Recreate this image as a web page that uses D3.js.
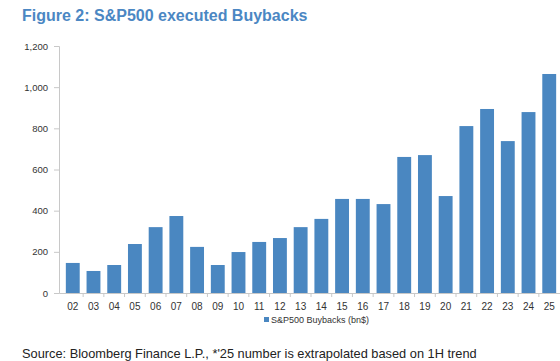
<!DOCTYPE html>
<html>
<head>
<meta charset="utf-8">
<script src="https://d3js.org/d3.v7.min.js"></script>
<style>
  body { margin: 0; background: #fff; }
  text { font-family: "Liberation Sans", Arial, sans-serif; }
</style>
</head>
<body>
<div id="chart"></div>
<script>
  // data
  const years = ["02","03","04","05","06","07","08","09","10","11","12","13",
                 "14","15","16","17","18","19","20","21","22","23","24","25"];
  const buybacks = [146, 107, 136, 238, 320, 374, 224, 136, 199, 248, 267, 320,
                    360, 457, 457, 432, 661, 670, 471, 811, 894, 738, 879, 1064];
  const yTicks = [0, 200, 400, 600, 800, 1000, 1200];

  const W = 560, H = 361;
  const margin = {top: 46, right: -3, bottom: 68, left: 59};
  const width = W - margin.left - margin.right,
        height = H - margin.top - margin.bottom;

  const svg = d3.select("#chart").append("svg")
    .attr("width", W).attr("height", H);

  // title
  svg.append("text")
    .attr("x", 22).attr("y", 21)
    .attr("font-size", 16).attr("font-weight", "bold")
    .attr("fill", "#4b87c3")
    .text("Figure 2: S&P500 executed Buybacks");

  const g = svg.append("g")
    .attr("transform", `translate(${margin.left},${margin.top})`);

  const x = d3.scaleBand().domain(years).range([0, width]).padding(0.33);
  const y = d3.scaleLinear().domain([0, 1200]).range([height, 0]);

  // y axis
  const yAx = g.append("g")
    .call(d3.axisLeft(y).tickValues(yTicks).tickFormat(d3.format(",")).tickSize(5).tickPadding(6));
  yAx.selectAll("line, path").attr("stroke", "#c8c8c8");
  yAx.selectAll("text").attr("font-size", 9.5).attr("fill", "#333")
    .style("font-family", "'Liberation Sans', Arial, sans-serif");

  // bars
  g.selectAll("rect.bar")
    .data(years)
    .join("rect")
    .attr("class", "bar")
    .attr("x", d => x(d))
    .attr("y", (d, i) => y(buybacks[i]))
    .attr("width", x.bandwidth())
    .attr("height", (d, i) => height - y(buybacks[i]))
    .attr("fill", "#4a87c1");

  // x axis
  const xAx = g.append("g")
    .attr("transform", `translate(0,${height})`)
    .call(d3.axisBottom(x).tickSize(0).tickPadding(10));
  xAx.select("path").attr("stroke", "#c8c8c8");
  xAx.selectAll("text").attr("font-size", 10).attr("fill", "#333")
    .style("font-family", "'Liberation Sans', Arial, sans-serif");
  // small ticks between categories
  xAx.selectAll("line.sep")
    .data(years.slice(1))
    .join("line")
    .attr("class", "sep")
    .attr("x1", d => x(d) - x.step() * x.paddingInner() / 2)
    .attr("x2", d => x(d) - x.step() * x.paddingInner() / 2)
    .attr("y1", 0).attr("y2", 4)
    .attr("stroke", "#c8c8c8");

  // legend
  const lg = svg.append("g").attr("transform", "translate(264,323)");
  lg.append("rect").attr("x", 0).attr("y", -6).attr("width", 5).attr("height", 5).attr("fill", "#4a87c1");
  lg.append("text").attr("x", 7).attr("y", 0)
    .attr("font-size", 9).attr("fill", "#333")
    .text("S&P500 Buybacks (bn$)");

  // source
  svg.append("text")
    .attr("x", 22).attr("y", 358)
    .attr("font-size", 12.8).attr("fill", "#222")
    .text("Source: Bloomberg Finance L.P., *'25 number is extrapolated based on 1H trend");
</script>
</body>
</html>
